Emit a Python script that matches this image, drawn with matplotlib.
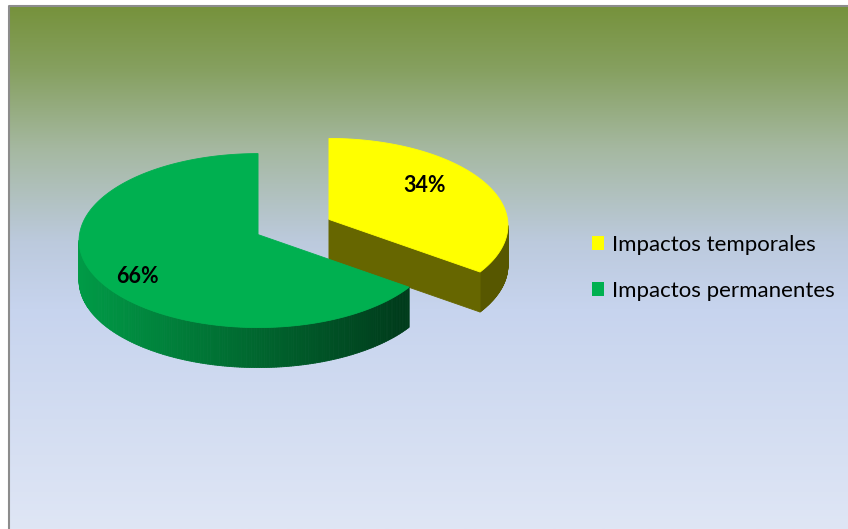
import numpy as np
import matplotlib.pyplot as plt
from matplotlib.patches import Polygon, Patch
from matplotlib.collections import PolyCollection
from matplotlib.colors import LinearSegmentedColormap, to_rgb

# data
labels = ['Impactos temporales', 'Impactos permanentes']
shares = [34, 66]
pct_text = ['34%', '66%']
top_colors = ['#FFFF00', '#00B050']

plt.rcParams['font.family'] = ['Lato', 'DejaVu Sans']

W, H = 848, 529
fig = plt.figure(figsize=(W / 100, H / 100), dpi=100)
ax = fig.add_axes([0, 0, 1, 1])
ax.axis('off')

# chart area background gradient (olive -> light blue)
bg = LinearSegmentedColormap.from_list(
    'bg', [(0.0, '#76923C'), (0.12, '#86a060'), (0.27, '#a5b8a0'),
           (0.45, '#bccadd'), (0.58, '#c7d4ee'), (1.0, '#dfe6f5')])
grad = np.linspace(0, 1, 256).reshape(-1, 1)
ax.imshow(grad, cmap=bg, extent=[9, W, H, 6], aspect='auto', zorder=0)
ax.plot([9, 9, W], [H, 5.5, 5.5], color='#8c8c8c', lw=1.5, zorder=1)
ax.set_xlim(0, W)
ax.set_ylim(H, 0)

# 3d pie geometry (pixel units)
cx, cy = 293.5, 233.0
a, b = 179.0, 87.0
depth = 40.0
explode = 0.226
explode_tilt = 0.8  # vertical part of the explode is flattened by the view
persp = 6.0  # apex sits a little above the ellipse centre
label_r = [0.66, 0.83]
label_dt = [7.0, 7.0]

fracs = np.array(shares, dtype=float) / sum(shares)
spans = []
theta = 90.0
for f in fracs:
    spans.append((theta - 360 * f, theta))
    theta -= 360 * f


def shade(col, m):
    r, g, bl = to_rgb(col)
    m = np.clip(m, 0, 1)
    return (r * m, g * m, bl * m)


def side_factor(t):
    return max(0.34, 0.58 - 0.3 * np.cos(np.radians(t)))


wedges = []
for i, (t0, t1) in enumerate(spans):
    mid = np.radians((t0 + t1) / 2)
    ex = cx + explode * a * np.cos(mid)
    ey = cy - explode * explode_tilt * b * np.sin(mid)
    wedges.append((i, t0, t1, ex, ey))

# back to front
wedges.sort(key=lambda w: w[4])

for i, t0, t1, ex, ey in wedges:
    col = top_colors[i]
    apex = (ex, ey - persp)

    def pt(t, dz=0.0):
        r = np.radians(t)
        return (ex + a * np.cos(r), ey - b * np.sin(r) + dz)

    # outer curved side, only the front half
    ts = np.linspace(t0, t1, 300)
    quads, cols = [], []
    for k in range(len(ts) - 1):
        tm = (ts[k] + ts[k + 1]) / 2
        if np.sin(np.radians(tm)) >= 0:
            continue
        p0, p1 = pt(ts[k]), pt(ts[k + 1])
        quads.append([p0, p1, pt(ts[k + 1], depth), pt(ts[k], depth)])
        cols.append(shade(col, side_factor(tm)))
    if quads:
        ax.add_collection(PolyCollection(quads, facecolors=cols, edgecolors=cols,
                                         linewidths=0.6, zorder=2))

    # radial cut faces
    for t, normal in ((t0, t0 - 90), (t1, t1 + 90)):
        if np.sin(np.radians(normal)) < -0.05:
            p = pt(t)
            face = [apex, p, (p[0], p[1] + depth), (apex[0], apex[1] + depth)]
            ax.add_patch(Polygon(face, closed=True, facecolor=shade(col, 0.4),
                                 edgecolor=shade(col, 0.4), lw=0.6, zorder=2))

    # top face
    arc = [pt(t) for t in np.linspace(t0, t1, 300)]
    ax.add_patch(Polygon([apex] + arc, closed=True, facecolor=col,
                         edgecolor=col, lw=0.6, zorder=3))

    # percentage label
    la = np.radians((t0 + t1) / 2 + label_dt[i])
    lx = apex[0] + label_r[i] * a * np.cos(la)
    ly = apex[1] - label_r[i] * b * np.sin(la)
    ax.text(lx, ly, pct_text[i], ha='center', va='center', fontsize=15.5,
            fontweight='bold', color='black', zorder=4)

handles = [Patch(facecolor=c, edgecolor='none') for c in top_colors]
ax.legend(handles, labels, loc='center left', bbox_to_anchor=(592 / W, 1 - 268 / H),
          frameon=False, fontsize=16, handlelength=0.55, handleheight=0.55,
          handletextpad=0.33, labelspacing=1.17, borderpad=0, borderaxespad=0)

fig.savefig('out.png', dpi=100, facecolor='white')
